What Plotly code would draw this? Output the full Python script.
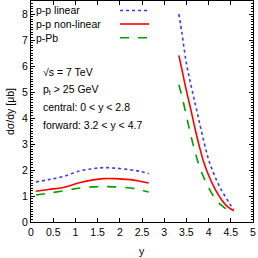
import plotly.graph_objects as go

# Central rapidity region
y_central = [0.11, 0.4, 0.73, 1.11, 1.4, 1.63, 1.9, 2.23, 2.45, 2.65]
central_linear = [1.54, 1.63, 1.75, 1.97, 2.05, 2.09, 2.07, 2.01, 1.95, 1.86]
central_nonlinear = [1.18, 1.25, 1.33, 1.52, 1.62, 1.67, 1.67, 1.63, 1.57, 1.50]
central_pPb = [1.04, 1.11, 1.20, 1.31, 1.35, 1.36, 1.35, 1.31, 1.24, 1.15]

# Forward rapidity region
y_forward = [3.33, 3.4, 3.5, 3.6, 3.7, 3.8, 3.9, 4.0, 4.1, 4.2, 4.3, 4.4, 4.5, 4.57]
forward_linear = [8.0, 7.25, 6.1, 5.28, 4.53, 3.78, 3.05, 2.40, 1.93, 1.53, 1.19, 0.91, 0.64, 0.50]
forward_nonlinear = [6.41, 5.85, 5.05, 4.32, 3.55, 2.85, 2.25, 1.80, 1.42, 1.10, 0.84, 0.63, 0.50, 0.43]
forward_pPb = [5.28, 4.83, 4.08, 3.33, 2.66, 2.10, 1.68, 1.32, 1.02, 0.77, 0.63, 0.50, 0.40, 0.35]

series_names = ["p-p linear", "p-p non-linear", "p-Pb"]
colors = ["#3a3aff", "#ff0000", "#00a000"]
dashes = ["dot", "solid", "dash"]

x_ticks = [0, 0.5, 1, 1.5, 2, 2.5, 3, 3.5, 4, 4.5, 5]
x_ticklabels = ["0", "0.5", "1", "1.5", "2", "2.5", "3", "3.5", "4", "4.5", "5"]
y_ticks = [0, 1, 2, 3, 4, 5, 6, 7, 8]

info_lines = ["√s = 7 TeV", "p<sub>t</sub> > 25 GeV", "central: 0 < y < 2.8", "forward: 3.2 < y < 4.7"]

FONT = "Liberation Sans, Arial, Helvetica, sans-serif"

fig = go.Figure()
central = [central_linear, central_nonlinear, central_pPb]
forward = [forward_linear, forward_nonlinear, forward_pPb]
for i in range(3):
    for xs, ys in ((y_central, central[i]), (y_forward, forward[i])):
        fig.add_trace(go.Scatter(
            x=xs, y=ys, mode="lines", name=series_names[i], showlegend=False,
            line=dict(color=colors[i], width=1.6, dash=dashes[i], shape="spline"),
        ))

# Manual gnuplot-style legend: text left, sample right
W, H = 222.0, 221.0
Y0 = 222.0
leg_y_px = [10.5, 24.0, 37.8]
for i in range(3):
    py = (Y0 - leg_y_px[i]) / H
    fig.add_annotation(xref="paper", yref="paper", x=(34 - 31) / W, y=py,
                       text=series_names[i], showarrow=False, xanchor="left", yanchor="middle",
                       font=dict(family=FONT, size=10.5, color="black"))
    fig.add_shape(type="line", xref="paper", yref="paper",
                  x0=(120 - 31) / W, x1=(149 - 31) / W, y0=py, y1=py,
                  line=dict(color=colors[i], width=1.6, dash=dashes[i]))

info_y_px = [72, 89.5, 107, 125]
info_x_px = [41, 41, 41, 41]
for t, yp, xp in zip(info_lines, info_y_px, info_x_px):
    fig.add_annotation(xref="paper", yref="paper", x=(xp - 31) / W, y=(Y0 - yp) / H,
                       text=t, showarrow=False, xanchor="left", yanchor="middle",
                       font=dict(family=FONT, size=10.5, color="black"))

# axis titles
fig.add_annotation(xref="paper", yref="paper", x=(142 - 31) / W, y=(Y0 - 251) / H,
                   text="y", showarrow=False, xanchor="center", yanchor="middle",
                   font=dict(family=FONT, size=10.5, color="black"))
fig.add_annotation(xref="paper", yref="paper", x=(10 - 31) / W, y=(Y0 - 112) / H,
                   text="dσ/dy [μb]", textangle=-90, showarrow=False, xanchor="center", yanchor="middle",
                   font=dict(family=FONT, size=10.5, color="black"))

fig.update_layout(
    width=258, height=258,
    margin=dict(l=31, r=5, t=1, b=36, autoexpand=False),
    paper_bgcolor="white", plot_bgcolor="white",
    font=dict(family=FONT, size=10.5, color="black"),
    xaxis=dict(range=[0, 5], tickmode="array", tickvals=x_ticks, ticktext=x_ticklabels,
               ticks="inside", ticklen=4, tickcolor="black", showgrid=False, zeroline=False,
               showline=True, linecolor="black", linewidth=1, mirror="ticks", automargin=False),
    yaxis=dict(range=[0, 8.5], tickmode="array", tickvals=y_ticks, automargin=False,
               ticks="inside", ticklen=4, tickcolor="black", showgrid=False, zeroline=False,
               showline=True, linecolor="black", linewidth=1, mirror="ticks",
               minor=dict(dtick=0.1, ticks="inside", ticklen=2, tickcolor="black", showgrid=False)),
)

fig.write_html("out.html", config={"displayModeBar": False, "staticPlot": True},
               post_script="document.body.style.margin='0';document.body.style.overflow='hidden';")
